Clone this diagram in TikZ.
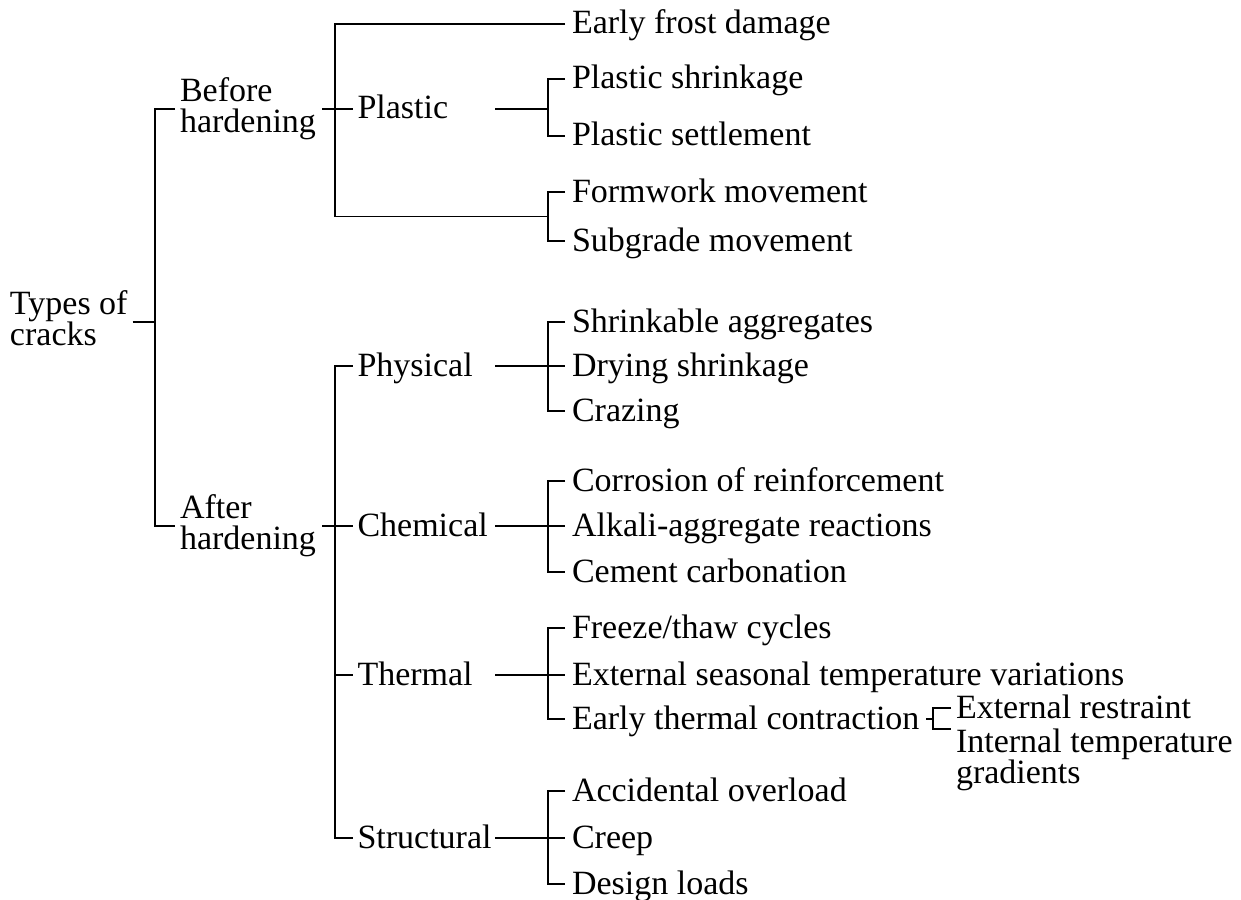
\documentclass[tikz,border=0pt]{standalone}
\usepackage{fontspec}
\setmainfont{Liberation Serif}
% struts that give every two-line label the same box height
\newcommand\labtop{\rule{0pt}{0.7em}}
\newcommand\labbot{\rule[-0.22em]{0pt}{0.22em}}
\begin{document}
\begin{tikzpicture}[x=0.5pt,y=-0.5pt,
  every node/.style={font={\fontsize{17}{15.5}\selectfont\lineskiplimit=-20pt\relax},
                     inner ysep=0pt, outer sep=0pt},
  lbl/.style={anchor=west, inner xsep=2.5pt, text height=10pt, text depth=0pt},
  leaf/.style={lbl, inner xsep=3.5pt},
  midlbl/.style={lbl, text width=66.25pt, align=left},
  twoline/.style={anchor=west, inner xsep=2.5pt, align=left},
  link/.style={line width=0.9pt}
]
\useasboundingbox (0,0) rectangle (1241,899);

% root and first level
\node[twoline] (types) at (5,322) {\labtop Types of\\cracks\labbot};
\node[twoline, text width=68.5pt] (before) at (175,109) {\labtop Before\\hardening\labbot};
\node[twoline, text width=68.5pt] (after) at (175,526) {\labtop After\\hardening\labbot};

% second level
\node[midlbl] (plastic) at (352.5,109) {Plastic};
\node[midlbl] (physical) at (352.5,366) {Physical};
\node[midlbl] (chemical) at (352.5,526) {Chemical};
\node[midlbl] (thermal) at (352.5,675) {Thermal};
\node[midlbl] (structural) at (352.5,838) {Structural};

% leaves
\node[leaf] (earlyfrost) at (565,24) {Early frost damage};
\node[leaf] (pshrink) at (565,79) {Plastic shrinkage};
\node[leaf] (psettle) at (565,136) {Plastic settlement};
\node[leaf] (formwork) at (565,192) {Formwork movement};
\node[leaf] (subgrade) at (565,241) {Subgrade movement};

\node[leaf] (shrinkable) at (565,322) {Shrinkable aggregates};
\node[leaf] (drying) at (565,366) {Drying shrinkage};
\node[leaf] (crazing) at (565,411) {Crazing};

\node[leaf] (corrosion) at (565,481) {Corrosion of reinforcement};
\node[leaf] (alkali) at (565,526) {Alkali-aggregate reactions};
\node[leaf] (cement) at (565,572) {Cement carbonation};

\node[leaf] (freeze) at (565,628) {Freeze/thaw cycles};
\node[leaf] (extseasonal) at (565,675) {External seasonal temperature variations};
\node[leaf] (earlythermal) at (565,719) {Early thermal contraction};

\node[leaf] (accidental) at (565,791) {Accidental overload};
\node[leaf] (creep) at (565,838) {Creep};
\node[leaf] (design) at (565,884) {Design loads};

\node[lbl] (extrestraint) at (951,708) {External restraint};
\node[anchor=north west, inner xsep=2.5pt, align=left] (internal) at (951,729)
  {\labtop Internal temperature\\gradients\labbot};

% junction points of the brackets
\coordinate (j0) at (155,322);
\coordinate (jb) at (335,109);
\coordinate (ja) at (335,526);
\coordinate (jpl) at (548,109);
\coordinate (jform) at (548,216.5);
\coordinate (jph) at (548,366);
\coordinate (jch) at (548,526);
\coordinate (jth) at (548,675);
\coordinate (jst) at (548,838);
\coordinate (jet) at (933,719);

\begin{scope}[link]
  % root
  \draw (types.east) -- (j0);
  \draw (before.west) -| (j0) |- (after.west);
  % before hardening
  \draw (before.east) -- (plastic.west);
  \draw (earlyfrost.west) -| (jb) |- (jform);
  \draw (plastic.east) -- (jpl);
  \draw (pshrink.west) -| (jpl) |- (psettle.west);
  \draw (formwork.west) -| (jform) |- (subgrade.west);
  % after hardening
  \draw (after.east) -- (chemical.west);
  \draw (physical.west) -| (ja) |- (structural.west);
  \draw (thermal.west) -- (thermal.west -| ja);
  % physical
  \draw (physical.east) -- (jph) -- (drying.west);
  \draw (shrinkable.west) -| (jph) |- (crazing.west);
  % chemical
  \draw (chemical.east) -- (jch) -- (alkali.west);
  \draw (corrosion.west) -| (jch) |- (cement.west);
  % thermal
  \draw (thermal.east) -- (jth) -- (extseasonal.west);
  \draw (freeze.west) -| (jth) |- (earlythermal.west);
  % structural
  \draw (structural.east) -- (jst) -- (creep.west);
  \draw (accidental.west) -| (jst) |- (design.west);
  % early thermal contraction
  \draw (earlythermal.east) -- (jet);
  \draw (extrestraint.west) -| (jet) |- (internal.north west);
\end{scope}
\end{tikzpicture}
\end{document}
